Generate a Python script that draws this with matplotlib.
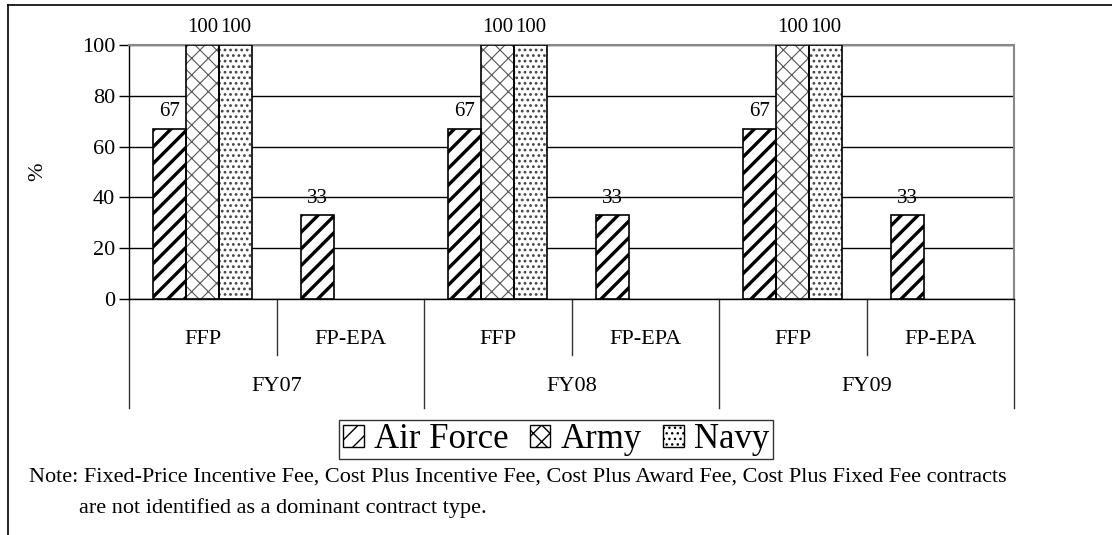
import matplotlib.pyplot as plt
import numpy as np
from matplotlib.lines import Line2D
from matplotlib.patches import Patch
import matplotlib.transforms as mtransforms

plt.rcParams['font.family'] = ['Liberation Serif', 'DejaVu Serif']

years = ['FY07', 'FY08', 'FY09']
types = ['FFP', 'FP-EPA']
services = ['Air Force', 'Army', 'Navy']
air_force = [67, 33, 67, 33, 67, 33]
army = [100, 0, 100, 0, 100, 0]
navy = [100, 0, 100, 0, 100, 0]
yticks = [0, 20, 40, 60, 80, 100]
note = ('Note: Fixed-Price Incentive Fee, Cost Plus Incentive Fee, Cost Plus Award Fee, '
        'Cost Plus Fixed Fee contracts')
note2 = 'are not identified as a dominant contract type.'

series = [air_force, army, navy]
hatches = ['//', 'xx', '...']
hatch_cols = ['black', '#555555', '#444444']
hatch_lw = [2.4, 0.8, 1.2]

fig = plt.figure(figsize=(11.12, 5.35), dpi=100)
ax = fig.add_axes([129/1112, 1 - 299/535, 885/1112, 254/535])

x = np.arange(len(air_force))
w = 0.224
for i, vals in enumerate(series):
    pos = x + (i - 1) * w
    bars = ax.bar(pos, vals, w, color='white', edgecolor=hatch_cols[i],
                  hatch=hatches[i], linewidth=0, zorder=3)
    for b in bars:
        if hasattr(b, 'set_hatch_linewidth'):
            b.set_hatch_linewidth(hatch_lw[i])
    nz = [k for k, v in enumerate(vals) if v > 0]
    ax.bar(pos[nz], [vals[k] for k in nz], w, fill=False, edgecolor='black',
           linewidth=1.2, zorder=4)
    for k in nz:
        ax.text(pos[k], vals[k] + 3, str(vals[k]), ha='center', va='bottom',
                fontsize=15, zorder=5)

ax.set_xlim(-0.5, len(x) - 0.5)
ax.set_ylim(0, 100)
ax.set_yticks(yticks)
ax.tick_params(axis='y', labelsize=16, length=7, width=1, direction='out', pad=3)
ax.set_xticks([])
ax.yaxis.grid(True, color='black', linewidth=1)
ax.set_axisbelow(True)
ax.spines['top'].set_color('#888888')
ax.spines['right'].set_color('#888888')
ax.spines['top'].set_linewidth(1.5)
ax.spines['right'].set_linewidth(1.5)
ax.spines['left'].set_linewidth(1)
ax.spines['bottom'].set_linewidth(1)

fig.text(38/1112, 1 - 172/535, '%', rotation=90, ha='center', va='center', fontsize=16)

# category axis: two levels
trans = mtransforms.blended_transform_factory(ax.transData, ax.transAxes)
for k in range(len(x)):
    ax.text(k, -0.16, types[k % 2], transform=trans, ha='center', va='center', fontsize=16)
for j, yr in enumerate(years):
    ax.text(2 * j + 0.5, -0.345, yr, transform=trans, ha='center', va='center', fontsize=16)
for k in range(len(x) + 1):
    xs = k - 0.5
    ybot = -0.43 if k % 2 == 0 else -0.22
    ax.add_line(Line2D([xs, xs], [0, ybot], transform=trans, color='#333333',
                       linewidth=1, clip_on=False))

handles = []
for h, c, lw in zip(hatches, hatch_cols, hatch_lw):
    p = Patch(facecolor='white', edgecolor='black', hatch=h, linewidth=1)
    if hasattr(p, 'set_hatch_linewidth'):
        p.set_hatch_linewidth(min(lw, 1.6))
    handles.append(p)
leg = fig.legend(handles, services, loc='center', bbox_to_anchor=(556/1112, 1 - 439.5/535),
                 ncol=3, fontsize=25, frameon=True, fancybox=False, edgecolor='black',
                 handlelength=0.6, handleheight=0.6, handletextpad=0.3, columnspacing=0.6,
                 borderpad=0.1, borderaxespad=0)
leg.get_frame().set_linewidth(1)

fig.text(29/1112, 1 - 477/535, note, ha='left', va='center', fontsize=16)
fig.text(79/1112, 1 - 508/535, note2, ha='left', va='center', fontsize=16)

# outer frame (top and left)
fig.add_artist(Line2D([8/1112, 1], [1 - 5/535, 1 - 5/535], color='black', linewidth=1.2))
fig.add_artist(Line2D([8/1112, 8/1112], [0, 1 - 5/535], color='black', linewidth=1.2))

fig.savefig('out.png', dpi=100)
